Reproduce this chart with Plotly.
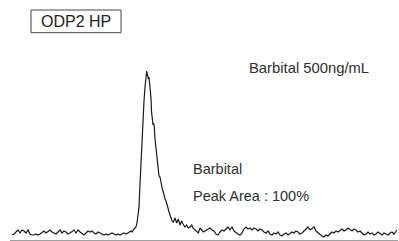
import plotly.graph_objects as go

# Chromatogram: retention position (arbitrary units) and detector intensity
time_left = [12, 14, 16, 18, 20, 22, 24, 26, 28, 30, 32, 34, 36, 38, 40, 42, 44, 46, 48, 50,
             52, 54, 56, 58, 60, 62, 64, 66, 68, 70, 72, 74, 76, 78, 80, 82, 84, 86, 88, 90,
             92, 94, 96, 98, 100, 102, 104, 106, 108, 110, 112, 114, 116, 118, 120, 122, 124, 126, 128, 130]
signal_left = [4, 5, 7, 9, 6, 9, 8, 6, 9, 5, 4, 4, 5, 4, 5, 7, 8, 6, 8, 9,
               7, 6, 5, 7, 9, 6, 8, 7, 5, 6, 8, 9, 6, 9, 7, 5, 4, 6, 8, 7,
               8, 6, 5, 7, 6, 5, 4, 5, 4, 5, 6, 5, 4, 5, 4, 5, 6, 5, 6, 7]

time_peak = [131, 132, 133, 134, 135, 136, 137, 137.7, 138.5, 139, 139.5, 140, 140.8, 141.7,
             142.5, 143.3, 144, 145, 145.7, 146.3, 146.7, 147.2, 147.6, 148, 148.5, 149, 149.5,
             150, 150.5, 151, 151.5, 152.3, 153, 153.5, 154.3, 155, 156, 156.7, 157.5, 158.3,
             159, 160, 161, 161.7, 162.5, 163.3, 164, 165, 166, 166.7, 168, 169, 170, 171.7,
             173.3, 175, 176.7, 178.3, 180, 181.7, 183, 185, 186.5, 188.3, 190, 191.7, 193,
             195, 197, 198.3, 200, 201.5, 203.3, 205, 206.7, 208, 210, 212]
signal_peak = [8, 7, 9, 10, 11, 12, 16, 21, 27, 32, 44, 56, 72, 89,
               108, 124, 138, 152, 162, 167, 168, 165, 162, 164, 160, 162, 156,
               156, 148, 141, 128, 116, 114, 116, 112, 100, 90, 89, 78, 69,
               63, 62, 56, 52, 49, 47, 43, 40, 38, 36, 31, 27, 24, 19,
               17, 21, 16, 20, 14, 18, 15, 12, 14, 11, 12, 14, 11,
               9, 7, 6, 11, 9, 7, 8, 9, 10, 11, 9]

time_right = [214, 216, 218, 220, 222, 224, 226, 228, 230, 232, 234, 236, 238, 240, 242, 244,
              246, 248, 250, 252, 254, 256, 258, 260, 262, 264, 266, 268, 270, 272, 274, 276,
              278, 280, 282, 284, 286, 288, 290, 292, 294, 296, 298, 300, 302, 304, 306, 308,
              310, 312, 314, 316, 318, 320, 322, 324, 326, 328, 330, 332, 334, 336, 338, 340,
              342, 344, 346, 348, 350, 352, 354, 356, 358, 360, 362, 364, 366, 368, 370, 372,
              374, 376, 378, 380, 382, 384, 386, 388, 390, 392, 394, 396, 397]
signal_right = [8, 5, 4, 7, 9, 8, 10, 12, 9, 12, 8, 6, 5, 4, 6, 10,
                12, 10, 11, 9, 11, 10, 8, 10, 9, 7, 6, 8, 5, 4, 6, 5,
                7, 4, 3, 5, 6, 4, 6, 7, 6, 8, 7, 5, 6, 8, 10, 12,
                9, 11, 12, 8, 6, 4, 3, 2, 4, 3, 5, 7, 6, 8, 7, 9,
                10, 8, 9, 11, 9, 8, 10, 9, 7, 8, 6, 4, 5, 7, 5, 6,
                4, 5, 7, 5, 4, 6, 5, 4, 6, 7, 5, 8, 9]

time = time_left + time_peak + time_right
signal = signal_left + signal_peak + signal_right

instrument_label = "ODP2 HP"
sample_label = "Barbital 500ng/mL"
compound_label = "Barbital"
area_label = "Peak Area : 100%"

FONT = "Liberation Sans, Arial, Helvetica, sans-serif"
TXT = "#2e2e2e"

fig = go.Figure()
fig.add_trace(go.Scatter(x=time, y=signal, mode="lines",
                         line=dict(color="#1a1a1a", width=1.2), hoverinfo="skip"))

fig.update_layout(
    width=399, height=241,
    margin=dict(l=10, r=1, t=0, b=1),
    paper_bgcolor="white", plot_bgcolor="white",
    showlegend=False,
    xaxis=dict(range=[10, 398], showgrid=False, zeroline=False, showticklabels=False,
               ticks="", showline=True, linecolor="#a0a0a0", linewidth=1),
    yaxis=dict(range=[-1, 239], showgrid=False, zeroline=False, showticklabels=False,
               ticks="", showline=False),
)

fig.add_shape(type="rect", xref="x", yref="y", x0=31, x1=121, y0=206.3, y1=229,
              line=dict(color="#444444", width=1), fillcolor="rgba(0,0,0,0)")

fig.add_annotation(x=76.2, y=217.3, xref="x", yref="y", text=instrument_label,
                   showarrow=False, xanchor="center", yanchor="middle",
                   font=dict(family=FONT, size=16, color="#222222"))
fig.add_annotation(x=247.3, y=171, xref="x", yref="y", text=sample_label,
                   showarrow=False, xanchor="left", yanchor="middle",
                   font=dict(family=FONT, size=14.8, color=TXT))
fig.add_annotation(x=190.7, y=70.3, xref="x", yref="y", text=compound_label,
                   showarrow=False, xanchor="left", yanchor="middle",
                   font=dict(family=FONT, size=14.5, color=TXT))
fig.add_annotation(x=190.7, y=43.5, xref="x", yref="y", text=area_label,
                   showarrow=False, xanchor="left", yanchor="middle",
                   font=dict(family=FONT, size=14.5, color=TXT))

fig.write_html("out.html",
               config={"displayModeBar": False, "staticPlot": True},
               post_script="document.body.style.margin='0';document.body.style.padding='0';document.body.style.overflow='hidden';")
